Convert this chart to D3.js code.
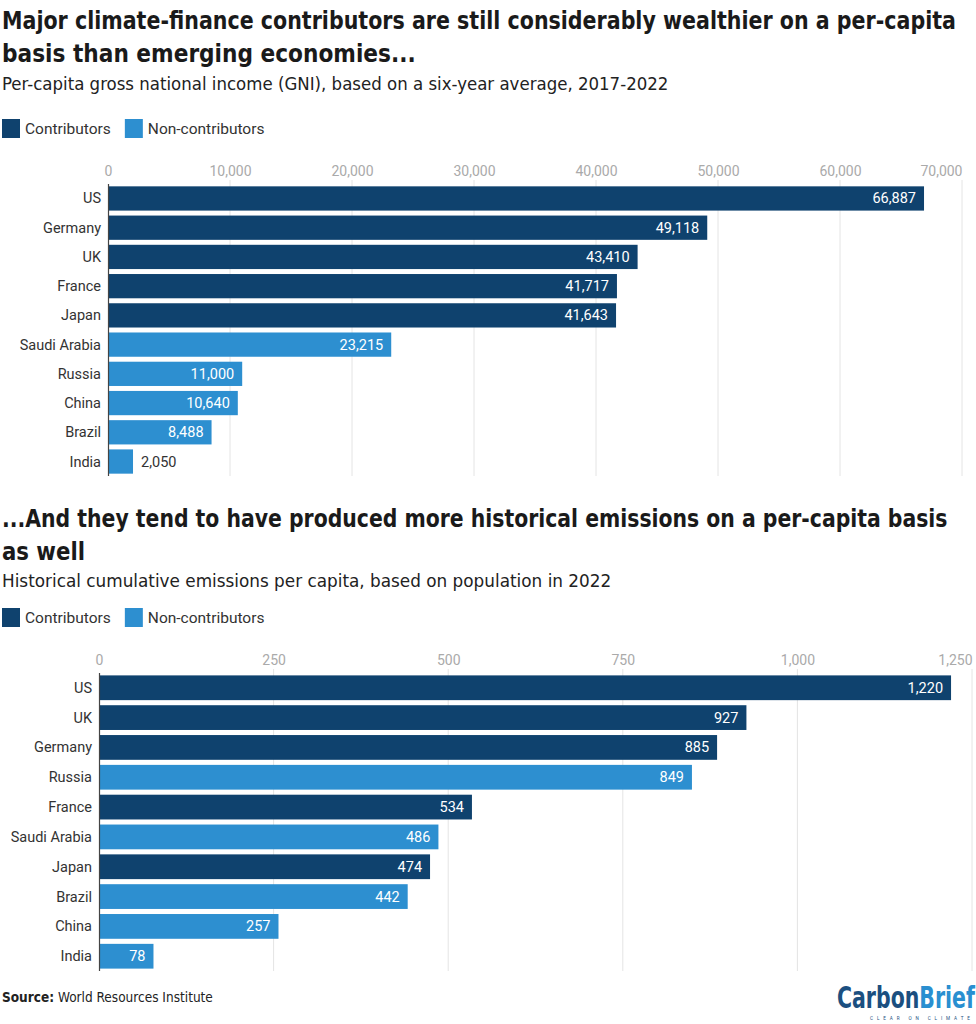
<!DOCTYPE html>
<html><head><meta charset="utf-8">
<script src="https://cdn.jsdelivr.net/npm/d3@7"></script>
<style>
body{margin:0;background:#fff;}
svg{display:block;}
.title{font-family:"DejaVu Sans Condensed","Liberation Sans",sans-serif;font-weight:bold;font-size:25px;fill:#1a1a1a;}
.sub{font-family:"DejaVu Sans Condensed","Liberation Sans",sans-serif;font-size:17px;fill:#222;}
.leg{font-family:Roboto,sans-serif;font-size:15.5px;fill:#333;}
.tick text{font-family:Roboto,sans-serif;font-size:14px;fill:#aaa;}
.cat{font-family:Roboto,sans-serif;font-size:14.5px;fill:#333;}
.val{font-family:Roboto,sans-serif;font-size:14.5px;}
</style></head><body>
<svg id="c" width="976" height="1024"></svg>
<script>
const COL_C = "#0f426e", COL_N = "#2d8fd0";

const gniCountries = ["US","Germany","UK","France","Japan","Saudi Arabia","Russia","China","Brazil","India"];
const gniValues = [66887,49118,43410,41717,41643,23215,11000,10640,8488,2050];
const gniGroup = ["C","C","C","C","C","N","N","N","N","N"];
const gniTicks = [0,10000,20000,30000,40000,50000,60000,70000];

const emCountries = ["US","UK","Germany","Russia","France","Saudi Arabia","Japan","Brazil","China","India"];
const emValues = [1220,927,885,849,534,486,474,442,257,78];
const emGroup = ["C","C","C","N","C","N","C","N","N","N"];
const emTicks = [0,250,500,750,1000,1250];

const legendLabels = ["Contributors","Non-contributors"];

const svg = d3.select("#c");
const fmt = d3.format(",");

// place a text at (x,y) and squeeze it horizontally to a given width
function fitText(sel, x, y, len){
  sel.attr("x",0).attr("y",0);
  const w = sel.node().getComputedTextLength();
  sel.attr("transform",`translate(${x},${y}) scale(${len/w},1)`);
  return sel;
}

function header(cfg){
  cfg.lines.forEach((t,i)=> {
    const el = svg.append("text").attr("class","title").text(t);
    fitText(el, 2, cfg.y0+i*33, cfg.widths[i]);
  });
  const s = svg.append("text").attr("class","sub").text(cfg.sub);
  fitText(s, 2, cfg.subY, cfg.subW);
  const ly = cfg.legY;
  const lg = svg.append("g");
  let lx = 2;
  legendLabels.forEach((l,i)=>{
    lg.append("rect").attr("x",lx).attr("y",ly).attr("width",18).attr("height",19).attr("fill", i? COL_N : COL_C);
    const t = lg.append("text").attr("class","leg").attr("x",lx+23).attr("y",ly+15).text(l);
    lx += 23 + t.node().getComputedTextLength() + 14;
  });
}

function chart(cfg){
  const x = d3.scaleLinear().domain([0, cfg.ticks[cfg.ticks.length-1]]).range([cfg.x0, cfg.x1]);
  const y = d3.scaleBand().domain(cfg.cats).range([cfg.top, cfg.bottom]).paddingInner(0.17).paddingOuter(0.08);
  const g = svg.append("g");
  g.selectAll("line.grid").data(cfg.ticks.slice(1)).join("line")
    .attr("x1",d=>x(d)).attr("x2",d=>x(d)).attr("y1",cfg.top-4).attr("y2",cfg.bottom)
    .attr("stroke","#e4e4e4").attr("stroke-width",1);
  const ax = g.append("g").attr("transform",`translate(0,${cfg.top-8})`)
    .call(d3.axisTop(x).tickValues(cfg.ticks).tickFormat(fmt).tickSize(0).tickPadding(0));
  ax.select(".domain").remove();
  ax.selectAll(".tick text").attr("text-anchor",(d,i)=> i===cfg.ticks.length-1 ? "end" : "middle");
  g.selectAll("rect.bar").data(cfg.cats).join("rect")
    .attr("x",x(0)).attr("y",d=>y(d)).attr("height",y.bandwidth())
    .attr("width",(d,i)=>x(cfg.vals[i])-x(0))
    .attr("fill",(d,i)=>cfg.grp[i]==="C"?COL_C:COL_N);
  g.append("line").attr("x1",x(0)+0.5).attr("x2",x(0)+0.5).attr("y1",cfg.top).attr("y2",cfg.bottom)
    .attr("stroke","#444").attr("stroke-width",1.2);
  g.selectAll("text.cat").data(cfg.cats).join("text").attr("class","cat")
    .attr("x",x(0)-7).attr("y",d=>y(d)+y.bandwidth()/2+5).attr("text-anchor","end").text(d=>d);
  cfg.cats.forEach((c,i)=>{
    const v = cfg.vals[i];
    const w = x(v)-x(0);
    const inside = w > 50;
    g.append("text").attr("class","val")
      .attr("x", inside ? x(v)-8 : x(v)+8)
      .attr("y", y(c)+y.bandwidth()/2+5)
      .attr("text-anchor", inside ? "end":"start")
      .attr("fill", inside ? "#fff" : "#333")
      .text(fmt(v));
  });
}

header({y0:29, lines:["Major climate-finance contributors are still considerably wealthier on a per-capita","basis than emerging economies..."], widths:[954,414],
  sub:"Per-capita gross national income (GNI), based on a six-year average, 2017-2022", subW:667, subY:90, legY:119});
chart({cats:gniCountries, vals:gniValues, grp:gniGroup, ticks:gniTicks, x0:108, x1:962, top:184, bottom:476});

header({y0:527, lines:["...And they tend to have produced more historical emissions on a per-capita basis","as well"], widths:[946,83],
  sub:"Historical cumulative emissions per capita, based on population in 2022", subW:610, subY:587, legY:608});
chart({cats:emCountries, vals:emValues, grp:emGroup, ticks:emTicks, x0:99, x1:972, top:673, bottom:971});

const src = svg.append("text").attr("font-family","'DejaVu Sans Condensed',sans-serif").attr("font-size",13.5).attr("fill","#222");
src.append("tspan").attr("font-weight","bold").text("Source:");
src.append("tspan").text(" World Resources Institute");
fitText(src, 2, 1002, 211);

const logo = svg.append("text").attr("font-family","'DejaVu Sans Condensed',sans-serif").attr("font-weight","bold").attr("font-size",30);
logo.append("tspan").attr("fill","#1b4f80").text("Carbon");
logo.append("tspan").attr("fill","#2a8fd0").text("Brief");
fitText(logo, 837, 1008, 138);
const tag = svg.append("text").attr("font-family","Roboto,sans-serif").attr("font-size",5).attr("letter-spacing",4.2).attr("fill","#1b4f80").text("CLEAR ON CLIMATE");
fitText(tag, 870, 1020, 104);
</script>
</body></html>
